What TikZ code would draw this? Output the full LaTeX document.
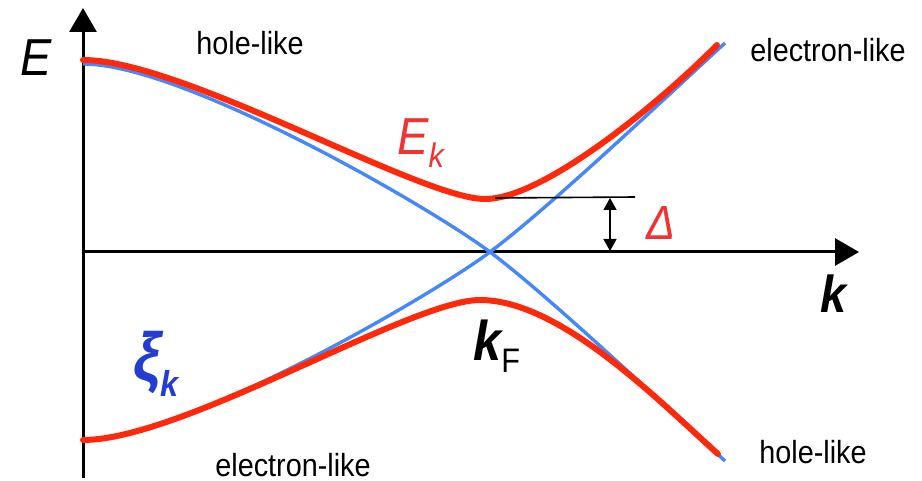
\documentclass[tikz,border=0pt]{standalone}
\usepackage{fontspec}
\setmainfont{Liberation Sans}[FakeStretch=0.9]
\usepackage{tikz}
\usetikzlibrary{arrows.meta}
\definecolor{bandred}{RGB}{255,40,10}
\definecolor{textred}{RGB}{240,50,50}
\definecolor{bandblue}{RGB}{70,135,250}
\definecolor{textblue}{RGB}{35,60,210}
\tikzset{
    axisline/.style={
        line width=1.5pt,
        black,
        -{Triangle[length=12pt, width=13.5pt]}
    },
    % bare bands (blue) and quasiparticle bands (red)
    xiline/.style={
        line width=1.7pt,
        bandblue
    },
    eline/.style={
        line width=3pt,
        bandred,
        line cap=round,
        line join=round
    },
    gaparrow/.style={
        line width=0.7pt,
        black,
        {Triangle[length=6pt, width=6.5pt]}-{Triangle[length=6pt, width=6.5pt]}
    },
    bandtext/.style={font=\fontsize{16}{19}\selectfont, inner sep=0pt}
}

\begin{document}
\begin{tikzpicture}[x=0.5pt, y=-0.5pt]
    \useasboundingbox (0,0) rectangle (922,481);
    \coordinate (origin) at (83,252);
    \coordinate (ybot) at (83,478);
    \coordinate (ytip) at (83,8);
    \coordinate (xtip) at (859,252);
    \coordinate (kF) at (490,252);
    % axes
    \draw[axisline] (ybot) -- (ytip);
    \draw[axisline] (origin) -- (xtip);
    % xi_k
    \draw[xiline] (83,440) .. controls (183,440) and (430,297) .. (kF)
                  .. controls (550,207) and (665,98) .. (725,43);
    \draw[xiline] (83,64) .. controls (183,64) and (430,207) .. (kF)
                  .. controls (550,297) and (665,406) .. (725,461);
    % E_k
    \draw[eline] (83,60) .. controls (183,60) and (420,199) .. (485,199)
                 .. controls (545,199) and (665,98) .. (717,45);
    \draw[eline] (83,440) .. controls (183,440) and (410,300) .. (480,300)
                 .. controls (560,300) and (658,400) .. (718,454);
    % gap
    \coordinate (gapmin) at (495,198);
    \coordinate (gapend) at (635,197);
    \coordinate (gaptop) at (610,198);
    \coordinate (gapbot) at (610,251);
    \draw[line width=0.8pt] (gapmin) -- (gapend);
    \draw[gaparrow] (gaptop) -- (gapbot);
    % labels
    \node[anchor=base west, inner sep=0pt, font=\fontsize{26}{30}\selectfont\itshape] (Elabel) at (20,76) {E};
    \node[bandtext] (holetop) at (250,43) {hole-like};
    \node[bandtext] (electop) at (828,50) {electron-like};
    \node[bandtext, anchor=base] (elecbot) at (293,476) {electron-like};
    \node[bandtext] (holebot) at (813,452) {hole-like};
    \node[anchor=base west, inner sep=0pt, textred, font=\fontsize{26}{30}\selectfont\itshape] (Eklabel) at (397,155) {E\raisebox{-6.5pt}{\fontsize{17}{17}\selectfont k}};
    \node[anchor=base west, inner sep=0pt, textred, font=\fontsize{24}{28}\selectfont\itshape] (gaplabel) at (646,240) {Δ};
    \node[anchor=base west, inner sep=0pt, font=\fontsize{26}{30}\selectfont\bfseries\itshape] (klabel) at (820,313) {k};
    \node[anchor=base west, inner sep=0pt, font=\fontsize{28}{32}\selectfont\bfseries\itshape] (kFlabel) at (473,360) {k\raisebox{-6pt}{\fontsize{17}{17}\selectfont\mdseries\upshape F}};
    \node[anchor=base west, inner sep=0pt, textblue, font=\fontsize{34}{38}\selectfont\bfseries\itshape] (xilabel) at (133,380) {ξ\raisebox{-8pt}{\fontsize{18}{18}\selectfont k}};
\end{tikzpicture}
\end{document}
